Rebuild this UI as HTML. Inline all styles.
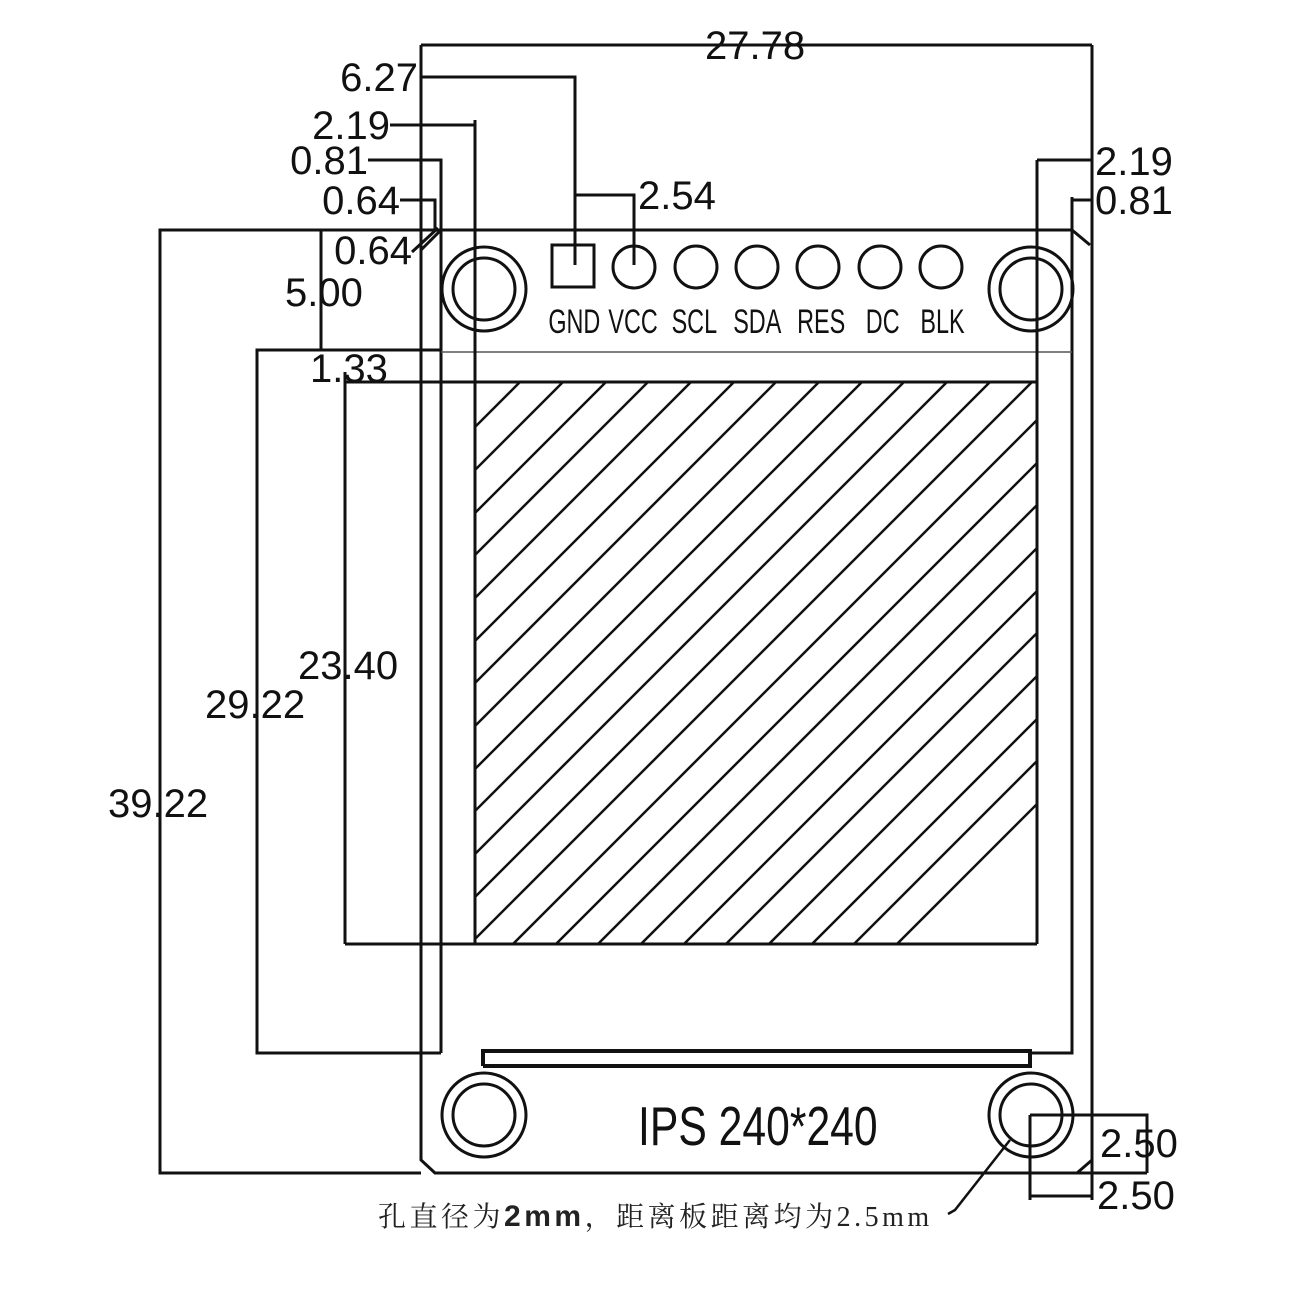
<!DOCTYPE html>
<html><head><meta charset="utf-8"><style>
html,body{margin:0;padding:0;background:#fff;width:1300px;height:1300px;overflow:hidden;}
svg{display:block;position:absolute;left:0;top:0;}
.d{font-family:"Liberation Sans",sans-serif;font-size:40px;fill:#111;}
.p{font-family:"Liberation Sans Narrow","Liberation Sans",sans-serif;font-size:30px;fill:#111;}
</style></head><body>
<svg width="1300" height="1300" viewBox="0 0 1300 1300" xmlns="http://www.w3.org/2000/svg">
<defs><clipPath id="scr"><rect x="475" y="382" width="562" height="562"/></clipPath></defs>
<g stroke="#111" stroke-width="3" fill="none">
<path d="M421 45 V1160 L435 1173 H1077 L1092 1160 V45"/>
<path d="M1092 1160 V1200"/>
<path d="M421 250 L441 230 H1072 L1090 245"/>
<path d="M441 230 V1053"/>
<path d="M1072 197 V1053 H1030"/>
<line x1="441" y1="352" x2="1072" y2="352" stroke-width="1.5" stroke="#555"/>
<line x1="475" y1="120" x2="475" y2="944"/>
<line x1="1037" y1="160" x2="1037" y2="944"/>
<line x1="345" y1="382" x2="1037" y2="382"/>
<line x1="345" y1="944" x2="1037" y2="944"/>
<g clip-path="url(#scr)" stroke-width="2.5">
<path d="M475 427 L520 382 M475 470 L563 382 M475 513 L606 382 M475 555 L648 382 M475 598 L691 382 M475 641 L734 382 M475 683 L776 382 M475 726 L819 382 M475 769 L862 382 M475 811 L904 382 M475 854 L947 382 M475 897 L990 382 M475 939 L1032 382 M475 982 L1075 382 M475 1025 L1118 382 M475 1067 L1160 382 M475 1110 L1203 382 M475 1153 L1246 382 M475 1195 L1288 382 M475 1238 L1331 382 M475 1281 L1374 382 M475 1323 L1416 382 M475 1366 L1459 382"/>
</g>
<path d="M483 1066 V1051 H1030 V1066 H483" stroke-width="4"/>
<circle cx="484" cy="289" r="42"/><circle cx="484" cy="289" r="31"/>
<circle cx="1031" cy="289" r="42"/><circle cx="1031" cy="289" r="31"/>
<circle cx="484" cy="1115" r="42"/><circle cx="484" cy="1115" r="31"/>
<circle cx="1031" cy="1115" r="42"/><circle cx="1031" cy="1115" r="31"/>
<rect x="552" y="245" width="42" height="42"/>
<circle cx="634" cy="267" r="21"/><circle cx="696" cy="267" r="21"/>
<circle cx="757" cy="267" r="21"/><circle cx="818" cy="267" r="21"/>
<circle cx="880" cy="267" r="21"/><circle cx="941" cy="267" r="21"/>
<line x1="421" y1="45" x2="1092" y2="45"/>
<path d="M421 77 H575 V265"/>
<path d="M390 125 H475"/>
<path d="M368 160 H441 V230"/>
<path d="M400 200 H435 V232"/>
<path d="M575 195 H634 V265"/>
<path d="M412 252 L438 228"/>
<path d="M321 230 V350"/>
<path d="M345 372 V944"/>
<path d="M441 350 H257 V1053 H441"/>
<path d="M441 230 H160 V1173 H421"/>
<path d="M1037 160 H1092"/>
<path d="M1072 200 H1092"/>
<path d="M1030 1115 H1147 V1173"/>
<path d="M1030 1115 V1200 M1030 1196 H1092"/>
<path d="M1077 1173 H1147"/>
<path d="M1010 1140 L955 1210 L948 1214" stroke-width="2.5"/>
</g>
<g class="d">
<text x="705" y="59">27.78</text>
<text x="418" y="91" text-anchor="end">6.27</text>
<text x="390" y="139" text-anchor="end">2.19</text>
<text x="368" y="174" text-anchor="end">0.81</text>
<text x="400" y="214" text-anchor="end">0.64</text>
<text x="412" y="264" text-anchor="end">0.64</text>
<text x="638" y="209">2.54</text>
<text x="285" y="306">5.00</text>
<text x="310" y="382">1.33</text>
<text x="298" y="679">23.40</text>
<text x="205" y="718">29.22</text>
<text x="108" y="817">39.22</text>
<text x="1095" y="175">2.19</text>
<text x="1095" y="214">0.81</text>
<text x="1100" y="1157">2.50</text>
<text x="1097" y="1209">2.50</text>
</g>
<g class="p" transform="translate(0,333) scale(0.78,1.15) translate(0,-333)">
<text x="703" y="333">GND</text>
<text x="780" y="333">VCC</text>
<text x="861" y="333">SCL</text>
<text x="940" y="333">SDA</text>
<text x="1022" y="333">RES</text>
<text x="1110" y="333">DC</text>
<text x="1180" y="333">BLK</text>
</g>
<text x="0" y="0" font-family="Liberation Sans Narrow, Liberation Sans, sans-serif" font-size="44" fill="#111" transform="translate(638,1145) scale(0.97,1.25)">IPS 240*240</text>
<text x="378" y="1226" font-family="Liberation Serif, Noto Serif CJK SC, serif" font-size="28" letter-spacing="3.5" fill="#222">孔直径为<tspan font-family="Liberation Sans, sans-serif" font-weight="bold" font-size="30">2mm</tspan>，距离板距离均为2.5mm</text>
</svg>
</body></html>
